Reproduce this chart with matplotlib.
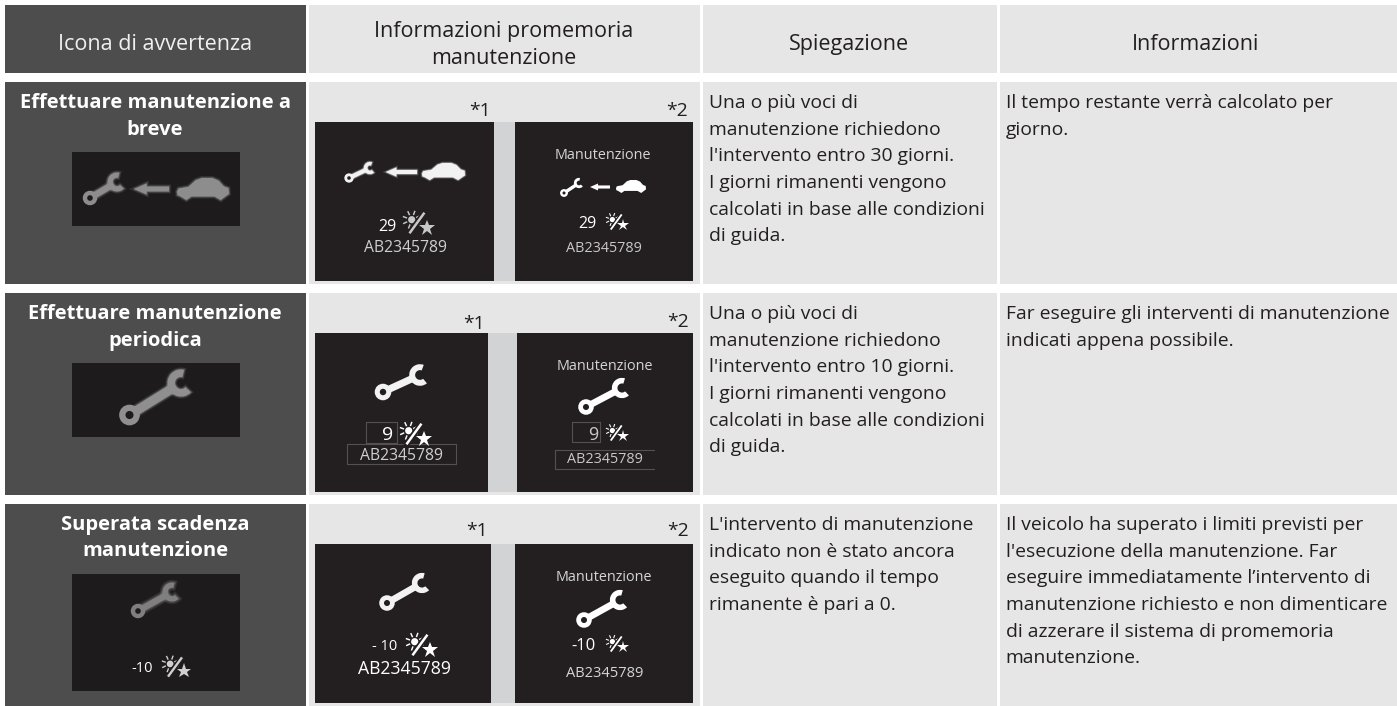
import math
import matplotlib
matplotlib.use("Agg")
import matplotlib.pyplot as plt
import matplotlib.patheffects as pe
from matplotlib.patches import Rectangle, Circle, Wedge, Polygon

plt.rcParams['font.family'] = ['Open Sans', 'DejaVu Sans']

W, H = 1397, 706
DARK, LIGHT, PANEL, STRIP = '#4d4d4d', '#e6e6e6', '#231f20', '#d1d3d4'
TXT = '#231f20'
BODY = 13.85
HEAD = 15.5
BOLD = 14.5

headers = ["Icona di avvertenza", "Informazioni promemoria\nmanutenzione", "Spiegazione", "Informazioni"]
titles = ["Effettuare manutenzione a\nbreve", "Effettuare manutenzione\nperiodica", "Superata scadenza\nmanutenzione"]
explanations = [
    ["Una o più voci di", "manutenzione richiedono", "l'intervento entro 30 giorni.", "I giorni rimanenti vengono", "calcolati in base alle condizioni", "di guida."],
    ["Una o più voci di", "manutenzione richiedono", "l'intervento entro 10 giorni.", "I giorni rimanenti vengono", "calcolati in base alle condizioni", "di guida."],
    ["L'intervento di manutenzione", "indicato non è stato ancora", "eseguito quando il tempo", "rimanente è pari a 0."],
]
infos = [
    ["Il tempo restante verrà calcolato per", "giorno."],
    ["Far eseguire gli interventi di manutenzione", "indicati appena possibile."],
    ["Il veicolo ha superato i limiti previsti per", "l'esecuzione della manutenzione. Far", "eseguire immediatamente l’intervento di", "manutenzione richiesto e non dimenticare", "di azzerare il sistema di promemoria", "manutenzione."],
]
panel_title = "Manutenzione"
code = "AB2345789"
day_labels = ["29", "9", "- 10", "-10"]
note1, note2 = "*1", "*2"

fig = plt.figure(figsize=(W / 100, H / 100), dpi=100, facecolor='white')
ax = fig.add_axes([0, 0, 1, 1])
ax.set_xlim(0, W)
ax.set_ylim(H, 0)
ax.axis('off')


def rect(x0, y0, x1, y1, color, z=1):
    ax.add_patch(Rectangle((x0, y0), x1 - x0, y1 - y0, fc=color, ec='none', lw=0, zorder=z))


def label(x, y, s, size=BODY, color=TXT, ha='center', weight='normal', z=6):
    ax.text(x, y + size * 0.5, s, fontsize=size, color=color, ha=ha, va='baseline', fontweight=weight, zorder=z)


def outline(x0, y0, x1, y1, open_right=False):
    c = '#55504f'
    ax.plot([x1, x0, x0, x1], [y0, y0, y1, y1], color=c, lw=0.8, zorder=4)
    if not open_right:
        ax.plot([x1, x1], [y0, y1], color=c, lw=0.8, zorder=4)


def glow_of(color, glow):
    if not glow:
        return []
    return [pe.Stroke(linewidth=glow * 2, foreground=color, alpha=.18),
            pe.Stroke(linewidth=glow, foreground=color, alpha=.35), pe.Normal()]


def wrench(x0, y0, x1, y1, r, color, bg=PANEL, glow=0):
    """ring centred at (x0,y0), jaw centred at (x1,y1), ring radius r (pixels)"""
    ang = math.degrees(math.atan2(y1 - y0, x1 - x0))
    ux, uy = math.cos(math.radians(ang)), math.sin(math.radians(ang))
    nx, ny = -uy, ux
    hw = r * 0.45
    sx, sy = x0 + ux * r * .6, y0 + uy * r * .6
    ex, ey = x1 - ux * r * .7, y1 - uy * r * .7
    effects = glow_of(color, glow)
    ax.add_patch(Polygon([(sx + nx * hw, sy + ny * hw), (ex + nx * hw, ey + ny * hw),
                          (ex - nx * hw, ey - ny * hw), (sx - nx * hw, sy - ny * hw)],
                         fc=color, ec='none', zorder=5, path_effects=effects))
    ax.add_patch(Circle((x0, y0), r * 0.72, fc=bg, ec=color, lw=r * 0.45, zorder=5))
    jr = r * 1.35
    ax.add_patch(Wedge((x1, y1), jr, ang + 15 + 60, ang + 15 + 300, width=jr * 0.55, fc=color, ec='none',
                       zorder=5, path_effects=effects))


def arrow(x_tip, x_end, y, h, color, glow=0):
    head = h * 1.15
    ax.add_patch(Polygon([(x_tip, y), (x_tip + head, y - h / 2), (x_tip + head, y - h / 4.5), (x_end, y - h / 4.5),
                          (x_end, y + h / 4.5), (x_tip + head, y + h / 4.5), (x_tip + head, y + h / 2)],
                         fc=color, ec='none', zorder=5, path_effects=glow_of(color, glow)))


def car(x0, y0, x1, y1, color, glow=0):
    w, h = x1 - x0, y1 - y0
    shape = [(0, .62), (.03, .48), (.22, .40), (.36, .10), (.48, 0), (.68, 0), (.80, .12), (.90, .38), (.99, .46),
             (1, .72), (.93, .84), (.84, 1), (.72, .84), (.28, .84), (.18, 1), (.07, .84), (.01, .78)]
    ax.add_patch(Polygon([(x0 + a * w, y0 + b * h) for a, b in shape], fc=color, ec='none', zorder=5,
                         path_effects=glow_of(color, glow)))


def sunstar(cx, cy, s, color='white'):
    # s is half width of the glyph in pixels
    sx, sy = cx - s * 0.42, cy - s * 0.22
    ax.add_patch(Circle((sx, sy), s * 0.24, fc=color, ec='none', zorder=5))
    for i in range(8):
        a = math.radians(i * 45 + 20)
        ax.plot([sx + math.cos(a) * s * .38, sx + math.cos(a) * s * .58],
                [sy + math.sin(a) * s * .38, sy + math.sin(a) * s * .58],
                color=color, lw=max(0.6, s * 0.07), zorder=5)
    ax.plot([cx - s * .52, cx + s * .38], [cy + s * .62, cy - s * .62], color=PANEL, lw=s * .28, zorder=5.1)
    ax.plot([cx - s * .52, cx + s * .38], [cy + s * .62, cy - s * .62], color=color, lw=s * .12, zorder=5.2)
    ax.plot([cx + s * .58], [cy + s * .30], marker='*', ms=s * 0.8, mfc=color, mec=color, mew=0, ls='none', zorder=5.3)


# cell backgrounds
col_x = [(5, 306), (309, 700), (703, 997), (1000, 1397)]
row_y = [(5, 73), (82, 284), (293, 495), (504, 706)]
for r, (y0, y1) in enumerate(row_y):
    for c, (x0, x1) in enumerate(col_x):
        rect(x0, y0, x1, y1, DARK if c == 0 else LIGHT)

# headers
label(155, 42, headers[0], size=HEAD, color='#f0f0f0')
for y, s in zip((29, 56), headers[1].split('\n')):
    label(504, y, s, size=HEAD)
label(849, 42, headers[2], size=HEAD)
label(1196, 42, headers[3], size=HEAD)

# column 1 titles
title_y = [(101, 128), (312, 339), (523, 549)]
for t, ys in zip(titles, title_y):
    for y, s in zip(ys, t.split('\n')):
        label(155, y, s, size=BOLD, color='white', weight='bold')

# column 3 & 4 text
first_line = [101, 312, 523]
for first, exp, inf in zip(first_line, explanations, infos):
    for i, s in enumerate(exp):
        label(709, first + i * 26.7, s, ha='left')
    for i, s in enumerate(inf):
        label(1005.5, first + i * 26.7, s, ha='left')

# left icon panels
rect(72, 152, 240, 226, '#1e1b1c', 2)
rect(72, 363, 240, 437, '#1e1b1c', 2)
rect(72, 574, 240, 691, '#1e1b1c', 2)
G = '#8d8d8d'
wrench(90, 198, 117, 182, 7, G, '#1e1b1c', glow=1.5)
arrow(134, 169, 189, 11, G, glow=1.5)
car(177, 178, 229, 200, G, glow=1.5)
wrench(129.5, 415, 181, 383, 10, '#8f8f8f', '#1e1b1c', glow=1.5)
wrench(138, 611, 172, 592, 7, '#7f7f7f', '#1e1b1c', glow=2)
label(142, 667, day_labels[3], size=10.5, color='white')
sunstar(176, 667, 14, '#d0d0d0')

# display panels (column 2)
panels = [
    (315, 494, 515, 693, 122, 281),
    (315, 488, 517, 693, 333, 492),
    (315, 491, 515, 693, 544, 703),
]
for x0, x1, x2, x3, y0, y1 in panels:
    rect(x1, y0, x2, y1, STRIP, 2)
    rect(x0, y0, x1, y1, PANEL, 2)
    rect(x2, y0, x3, y1, PANEL, 2)

note_pos = [(480, 109, 677, 109), (474, 322, 678, 320), (477, 529, 678, 529)]
for xa, ya, xb, yb in note_pos:
    label(xa, ya, note1)
    label(xb, yb, note2)

# row 1
wrench(349, 178, 370, 168, 4.5, '#f2f2f2', glow=1)
arrow(386, 417, 172, 9, '#f2f2f2', glow=1)
car(422, 163, 465, 180, '#f2f2f2', glow=1)
label(387, 225, day_labels[0], size=11.5, color='white')
sunstar(418, 223, 15, '#c8c8c8')
label(405, 246, code, size=11.3, color='#cfcfcf')

label(603, 154, panel_title, size=10.4, color='#d5d5d5')
wrench(564, 193, 579, 183, 3.8, 'white')
arrow(590, 610, 187, 7, 'white')
car(616, 180, 646, 193, 'white')
label(587, 222, day_labels[0], size=11.5, color='white')
sunstar(617, 222, 11)
label(604, 247, code, size=10.4, color='#c8c8c8')

# row 2
wrench(383, 392, 420, 375, 8, '#f2f2f2')
outline(366, 422, 397, 443)
label(388, 433, day_labels[1], size=14, color='white')
sunstar(415, 434, 15)
outline(347, 444, 456, 464)
label(401, 454, code, size=11.3, color='#cfcfcf')

label(605, 365, panel_title, size=10.4, color='#d5d5d5')
wrench(586, 407, 622, 388, 7.5, 'white')
outline(572, 422, 600, 442)
label(593, 433, day_labels[1], size=13, color='#c8c8c8')
sunstar(617, 433, 11)
outline(555, 450, 654, 469, open_right=True)
label(605, 458, code, size=10.4, color='#c8c8c8')

# row 3
wrench(387, 603, 422, 583, 7.5, '#f2f2f2')
label(385, 645, day_labels[2], size=10.5, color='white')
sunstar(421, 645, 15)
label(404, 668, code, size=12.7, color='white')

label(604, 576, panel_title, size=10.4, color='#d5d5d5')
wrench(584, 620, 620, 600, 7.5, 'white')
label(583, 644, day_labels[3], size=12, color='white')
sunstar(617, 644, 11)
label(605, 672, code, size=10.5, color='#d5d5d5')

fig.savefig('out.png', dpi=100, facecolor='white')
